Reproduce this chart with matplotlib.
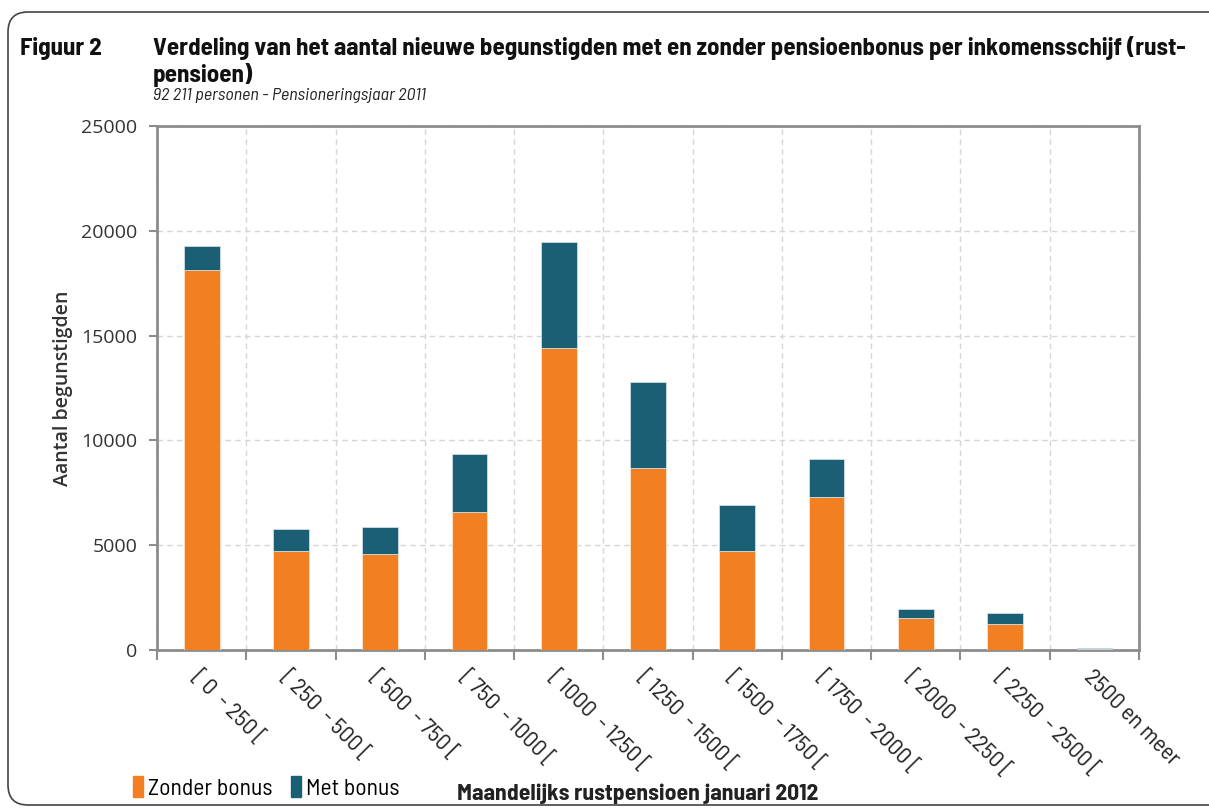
import matplotlib
matplotlib.use("Agg")
import matplotlib.pyplot as plt
import numpy as np
from matplotlib.patches import FancyBboxPatch, Patch

# data
categories = ["[ 0  - 250 [", "[ 250  - 500 [", "[ 500  - 750 [", "[ 750  - 1000 [",
              "[ 1000  - 1250 [", "[ 1250  - 1500 [", "[ 1500  - 1750 [", "[ 1750  - 2000 [",
              "[ 2000  - 2250 [", "[ 2250  - 2500 [", "2500 en meer"]
zonder_bonus = [18150, 4730, 4600, 6600, 14430, 8690, 4710, 7290, 1530, 1240, 60]
met_bonus = [1140, 1050, 1260, 2730, 5040, 4080, 2200, 1820, 430, 540, 20]
yticks = [0, 5000, 10000, 15000, 20000, 25000]

orange = "#f28022"
blue = "#1b5f75"
grey = "#8c8c8c"
narrow = ["Barlow Semi Condensed", "DejaVu Sans"]
tickfont = ["Open Sans", "DejaVu Sans"]

fig = plt.figure(figsize=(12.09, 8.09), dpi=100)
ax = fig.add_axes([0.1299, 0.1965, 0.8122, 0.6477])

x = np.arange(len(categories))
ax.bar(x, zonder_bonus, width=0.4, color=orange, edgecolor="#fbe3cf", linewidth=0.6, zorder=3)
ax.bar(x, met_bonus, width=0.4, bottom=zonder_bonus, color=blue, edgecolor="#cfdde2",
       linewidth=0.6, zorder=3)

ax.set_xlim(-0.5, len(categories) - 0.5)
ax.set_ylim(0, 25000)
ax.set_yticks(yticks)
ax.set_yticklabels([str(v) for v in yticks], family=tickfont, fontsize=14, color="#333333")

# category labels at the centres, tick marks at the boundaries
ax.set_xticks(x)
ax.set_xticklabels(categories, rotation=-45, ha="left", va="top", rotation_mode="anchor",
                   family=narrow, fontsize=17, color="#222222")
ax.set_xticks(np.arange(-0.5, len(categories), 1.0), minor=True)
ax.tick_params(axis="x", which="major", length=0, pad=12)
ax.tick_params(axis="x", which="minor", length=7, width=1.5, color=grey)
ax.tick_params(axis="y", length=6, width=1.5, color=grey, pad=8)

ax.grid(axis="y", which="major", color="#d6d6d6", linestyle=(0, (4, 3)), linewidth=1, zorder=0)
ax.grid(axis="x", which="minor", color="#d6d6d6", linestyle=(0, (4, 3)), linewidth=1, zorder=0)
ax.grid(axis="x", which="major", visible=False)
for s in ax.spines.values():
    s.set_color(grey)
    s.set_linewidth(2)

ax.set_ylabel("Aantal begunstigden", family=tickfont, fontsize=14, fontweight="semibold",
              color="#333333", labelpad=6)

# titles
fig.text(20 / 1209, 1 - 55 / 809, "Figuur 2", family=narrow, fontsize=18, fontweight="bold",
         color="#111111")
fig.text(153 / 1209, 1 - 55 / 809,
         "Verdeling van het aantal nieuwe begunstigden met en zonder pensioenbonus per inkomensschijf (rust-",
         family=narrow, fontsize=18, fontweight="bold", color="#111111")
fig.text(153 / 1209, 1 - 82 / 809, "pensioen)", family=narrow, fontsize=18, fontweight="bold",
         color="#111111")
fig.text(153 / 1209, 1 - 100 / 809, "92 211 personen - Pensioneringsjaar 2011", family=narrow,
         fontsize=13, fontstyle="italic", color="#222222")

# legend and x axis title
handles = [Patch(color=orange, label="Zonder bonus"), Patch(color=blue, label="Met bonus")]
fig.legend(handles=handles, loc="lower left", bbox_to_anchor=(112 / 1209, -0.015), ncol=2,
           frameon=False, handlelength=0.42, handleheight=1.0, handletextpad=0.2,
           columnspacing=0.8, prop={"family": narrow, "size": 17})
fig.text(457 / 1209, 1 - 800 / 809, "Maandelijks rustpensioen januari 2012", family=narrow,
         fontsize=17, fontweight="bold", color="#222222")

# rounded outer frame, running off the right edge
frame = FancyBboxPatch((0.08, 0.04), 14.0, 7.93, boxstyle="round,pad=0,rounding_size=0.2",
                       transform=fig.dpi_scale_trans, fill=False, edgecolor="#444444",
                       linewidth=1.2)
fig.patches.append(frame)

fig.savefig("out.png", dpi=100)
